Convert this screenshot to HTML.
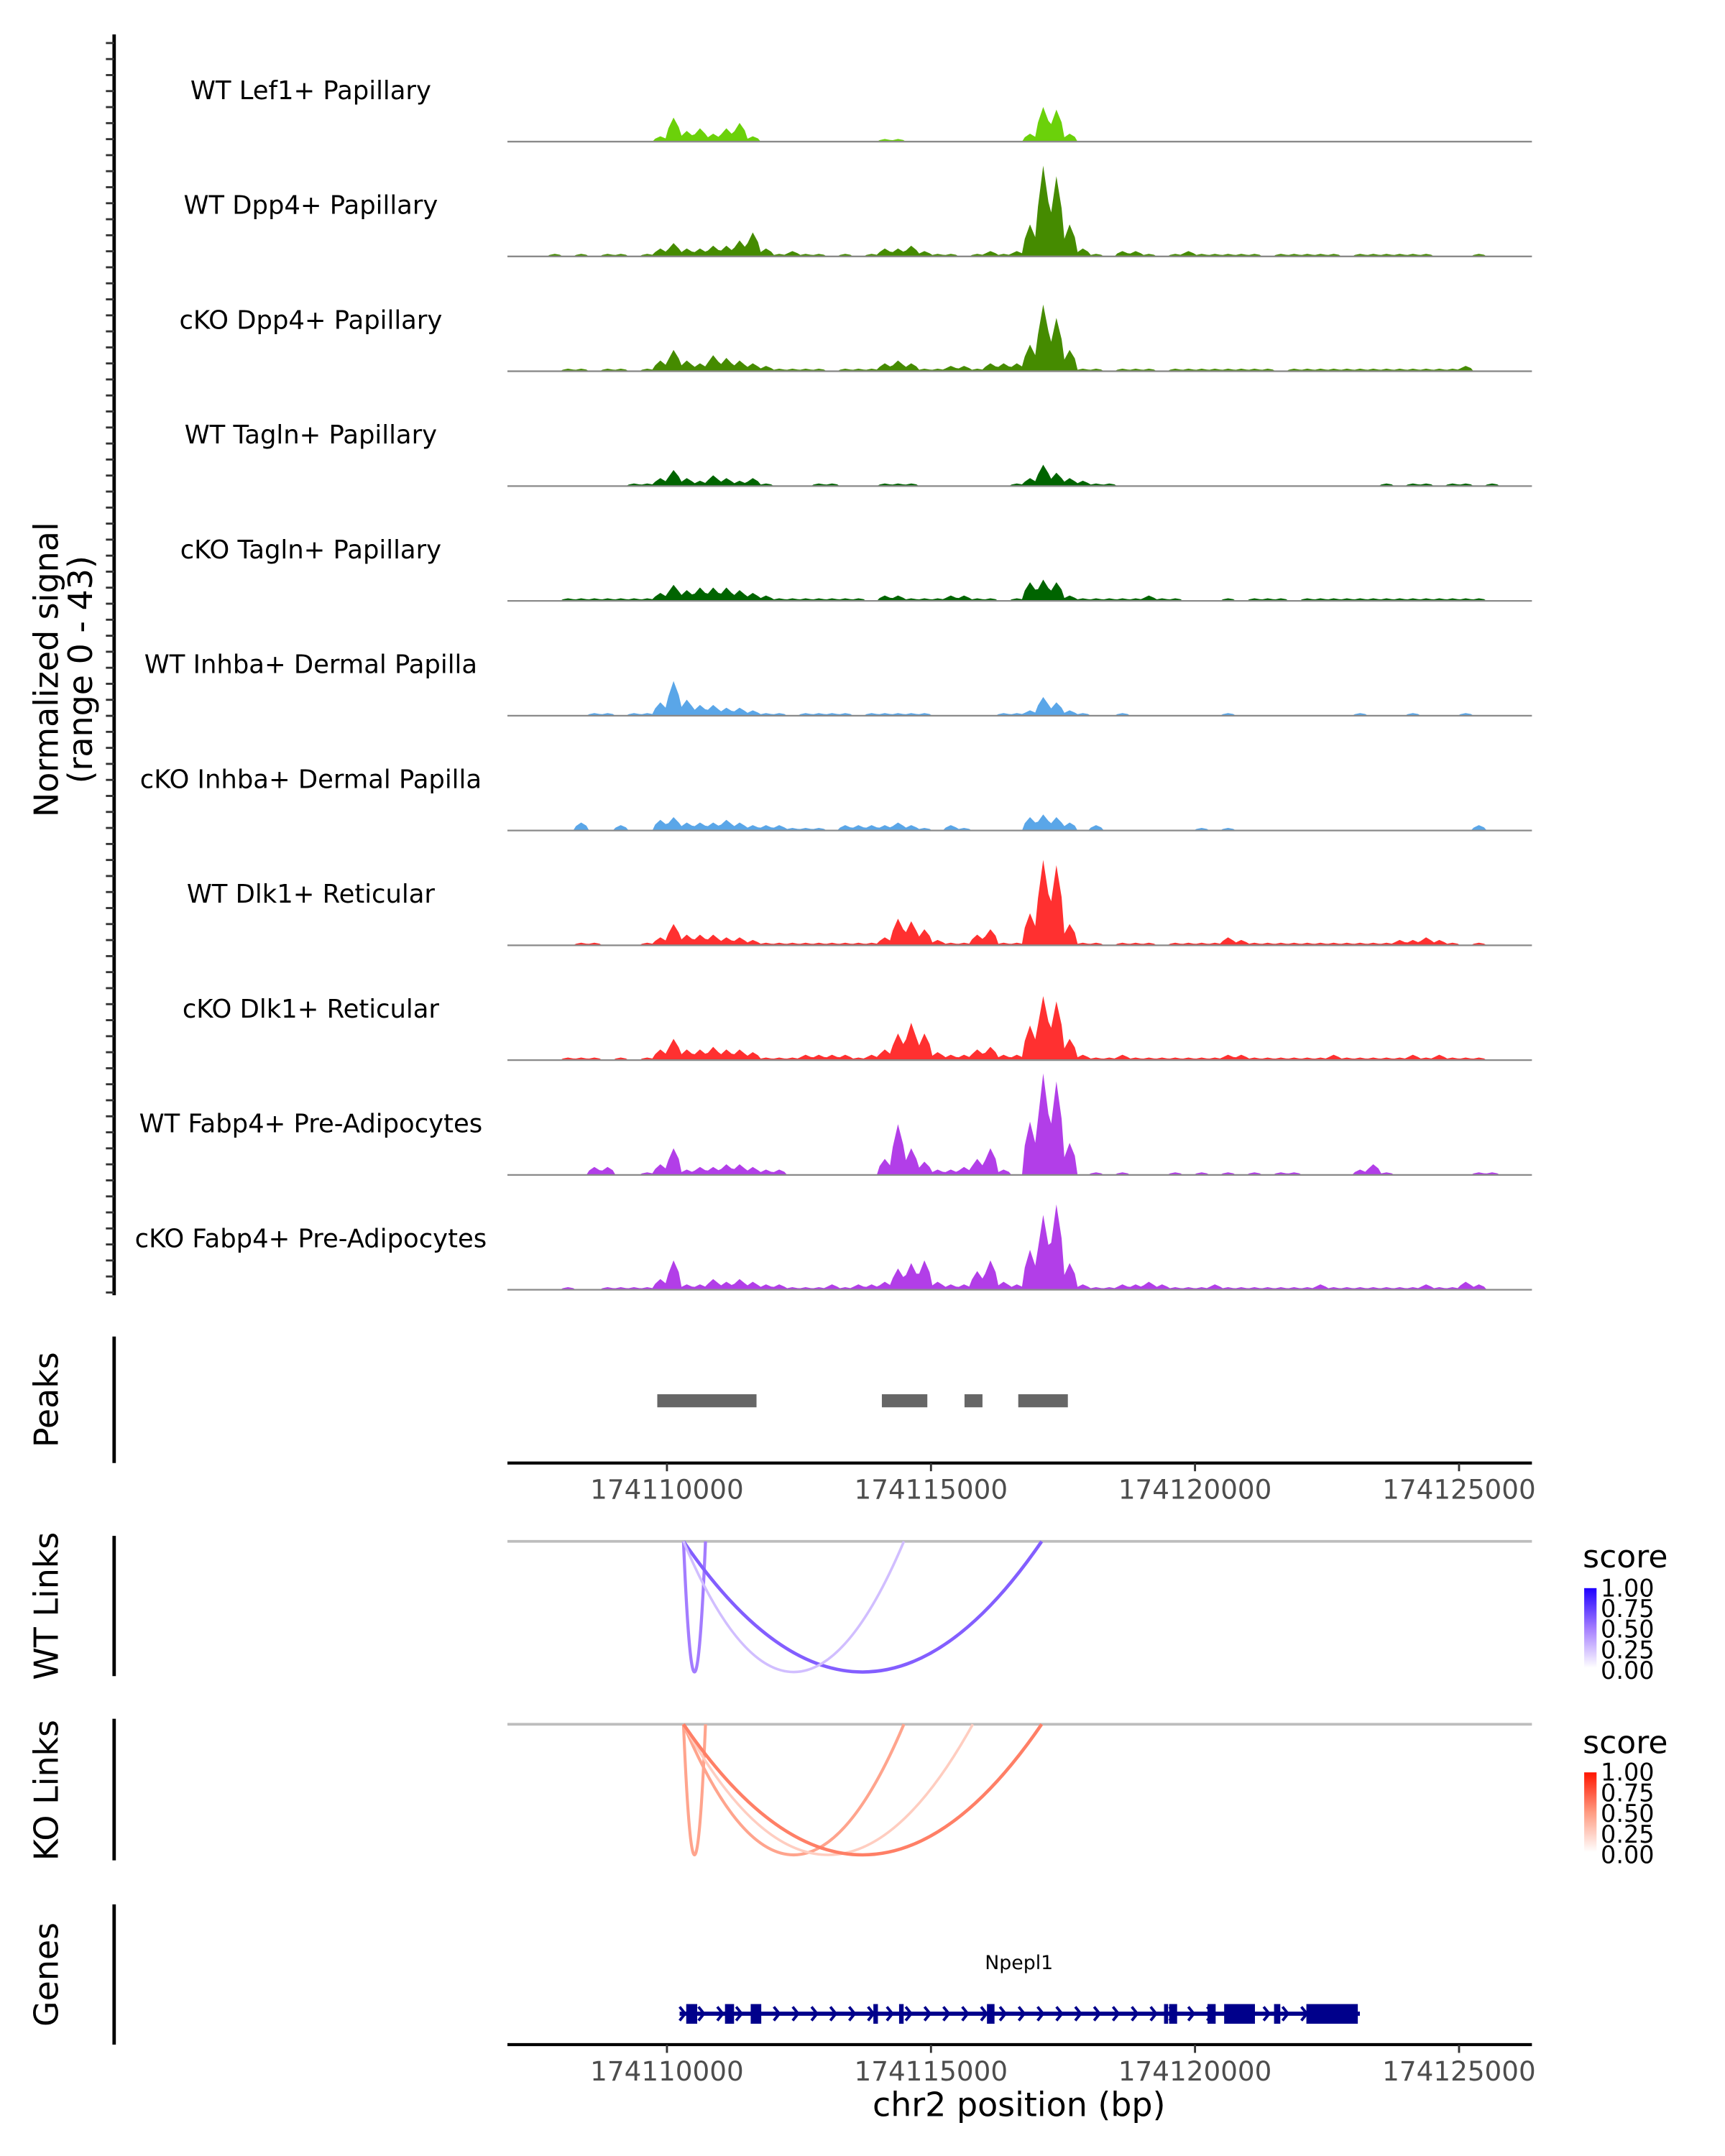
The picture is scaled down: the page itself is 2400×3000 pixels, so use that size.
<!DOCTYPE html>
<html><head><meta charset="utf-8"><title>Coverage plot</title>
<style>html,body{margin:0;padding:0;background:#fff}svg{display:block}text{font-family:"DejaVu Sans","Liberation Sans",sans-serif}</style>
</head><body>
<svg id="chart" xmlns="http://www.w3.org/2000/svg" width="2400" height="3000" viewBox="0 0 1254.4 1568" preserveAspectRatio="none">
<defs>
<linearGradient id="gBlue" x1="0" y1="1" x2="0" y2="0"><stop offset="0" stop-color="#ffffff"/><stop offset="0.5" stop-color="#a37cff"/><stop offset="1" stop-color="#1f00ff"/></linearGradient>
<linearGradient id="gRed" x1="0" y1="1" x2="0" y2="0"><stop offset="0" stop-color="#ffffff"/><stop offset="0.5" stop-color="#ff9a80"/><stop offset="1" stop-color="#ff1500"/></linearGradient>
</defs>
<g id="static">
<text transform="translate(42,487) rotate(-90)" text-anchor="middle" font-size="24">Normalized signal</text>
<text transform="translate(67,487) rotate(-90)" text-anchor="middle" font-size="24">(range 0 - 43)</text>
<line x1="83" y1="25" x2="83" y2="942" stroke="#000" stroke-width="2.5"/>
<text transform="translate(42,1018) rotate(-90)" text-anchor="middle" font-size="24">Peaks</text>
<line x1="83" y1="972" x2="83" y2="1064" stroke="#000" stroke-width="2.5"/>
<text transform="translate(42,1168) rotate(-90)" text-anchor="middle" font-size="24">WT Links</text>
<line x1="83" y1="1117" x2="83" y2="1219" stroke="#000" stroke-width="2.5"/>
<text transform="translate(42,1302) rotate(-90)" text-anchor="middle" font-size="24">KO Links</text>
<line x1="83" y1="1250" x2="83" y2="1353" stroke="#000" stroke-width="2.5"/>
<text transform="translate(42,1436) rotate(-90)" text-anchor="middle" font-size="24">Genes</text>
<line x1="83" y1="1385" x2="83" y2="1487" stroke="#000" stroke-width="2.5"/>
<text x="741" y="1539" text-anchor="middle" font-size="24">chr2 position (bp)</text>
<text x="741" y="1432" text-anchor="middle" font-size="14">Npepl1</text>
<text x="1151" y="1140" font-size="23">score</text>
<rect x="1152" y="1155" width="9" height="58" fill="url(#gBlue)"/>
<text x="1151" y="1275" font-size="23">score</text>
<rect x="1152" y="1289" width="9" height="58" fill="url(#gRed)"/>
</g>
<g id="dyn"></g>
</svg>
<script>
const names=["WT Lef1+ Papillary","WT Dpp4+ Papillary","cKO Dpp4+ Papillary","WT Tagln+ Papillary","cKO Tagln+ Papillary","WT Inhba+ Dermal Papilla","cKO Inhba+ Dermal Papilla","WT Dlk1+ Reticular","cKO Dlk1+ Reticular","WT Fabp4+ Pre-Adipocytes","cKO Fabp4+ Pre-Adipocytes"];
const colors=["#6bd10a","#458b00","#458b00","#006400","#006400","#5aa6e8","#5aa6e8","#ff3030","#ff3030","#b23ee8","#b23ee8"];
const binStart=174107000, binSize=250;
const sigLef1=[0,0,0,0,0,0,0,0,0,0, 0,2,9,4,5,3,5,7,2,0, 0,0,0,0,0,0,0,0,1,1, 0,0,0,0,0,0,0,0,0,3, 13,12,3,0,0,0,0,0,0,0, 0,0,0,0,0,0,0,0,0,0, 0,0,0,0,0,0,0,0,0,0, 0,0,0,0,0,0];
const sigWTDpp4=[0,0,0,1,0,1,0,1,1,0, 1,3,5,3,3,4,4,6,9,3, 1,2,1,1,0,1,0,1,3,3, 4,2,1,1,0,1,2,1,2,12, 34,30,12,3,1,0,2,2,1,0, 1,2,1,1,1,1,1,0,1,1, 1,1,1,0,1,1,1,1,1,1, 0,0,0,1,0,0];
const sigKODpp4=[0,0,0,0,1,1,0,1,1,0, 1,4,8,4,3,6,5,4,3,2, 1,1,1,1,0,1,1,1,3,4, 3,1,1,2,2,1,3,3,3,10, 25,20,8,1,1,0,1,1,1,0, 1,1,1,1,1,1,1,1,0,1, 1,1,1,1,1,1,1,1,1,1, 1,1,2,0,0,0];
const sigWTTagln=[0,0,0,0,0,0,0,0,0,1, 1,3,6,3,2,4,3,2,3,1, 0,0,0,1,1,0,0,0,1,1, 1,0,0,0,0,0,0,0,1,3, 8,5,3,2,1,1,0,0,0,0, 0,0,0,0,0,0,0,0,0,0, 0,0,0,0,0,0,1,0,1,1, 0,1,1,0,1,0];
const sigKOTagln=[0,0,0,0,1,1,1,1,1,1, 1,3,6,4,5,5,5,4,3,2, 1,1,1,1,1,1,1,0,2,2, 1,1,1,2,2,1,1,0,1,7, 8,7,2,1,1,1,1,1,2,1, 1,0,0,0,1,0,1,1,1,0, 1,1,1,1,1,1,1,1,1,1, 1,1,1,1,0,0];
const sigWTInhba=[0,0,0,0,0,0,1,1,0,1, 1,5,13,6,4,4,3,3,2,1, 1,0,1,1,1,1,0,1,1,1, 1,1,0,0,0,0,0,1,1,2, 7,5,2,1,0,0,1,0,0,0, 0,0,0,0,1,0,0,0,0,0, 0,0,0,0,1,0,0,0,1,0, 0,0,1,0,0,0];
const sigKOInhba=[0,0,0,0,0,3,0,0,2,0, 0,4,5,3,3,3,4,3,2,2, 2,1,1,1,0,2,2,2,2,3, 2,1,0,2,1,0,0,0,0,5, 6,5,3,0,2,0,0,0,0,0, 0,0,1,0,1,0,0,0,0,0, 0,0,0,0,0,0,0,0,0,0, 0,0,0,2,0,0];
const sigWTDlk1=[0,0,0,0,0,1,1,0,0,0, 1,3,8,4,4,4,3,3,2,1, 1,1,1,1,1,1,1,1,3,10, 9,6,2,1,1,4,6,1,1,12, 32,30,8,1,1,0,1,1,1,0, 1,1,1,1,3,2,1,1,1,1, 1,1,1,1,1,1,1,2,2,3, 2,1,0,1,0,0];
const sigKODlk1=[0,0,0,0,1,1,1,0,1,0, 1,4,8,4,4,5,4,4,3,1, 1,1,2,2,2,2,1,2,4,10, 14,10,3,2,2,4,5,2,2,13, 24,22,8,2,1,1,2,1,1,1, 1,1,1,1,2,2,1,1,1,1, 1,1,2,1,1,1,1,1,2,1, 2,1,1,1,0,0];
const sigWTFabp4=[0,0,0,0,0,0,3,3,0,0, 1,4,10,2,3,3,4,4,3,2, 2,0,0,0,0,0,0,0,6,19, 10,5,2,2,3,6,10,2,0,20, 38,35,12,0,1,0,1,0,0,0, 1,0,1,0,1,0,1,0,1,1, 0,0,0,0,2,4,1,0,0,0, 0,0,0,1,1,0];
const sigKOFabp4=[0,0,0,0,1,0,0,1,1,1, 1,4,11,2,2,4,3,4,3,2, 2,1,1,1,2,1,2,2,3,8, 10,11,3,2,2,7,11,3,2,15, 28,32,10,2,1,1,2,2,3,2, 1,1,1,2,1,1,1,1,1,1, 1,2,1,1,1,1,1,1,1,2, 1,1,3,2,0,0];
const peakStarts=[174109817,174114070,174115635,174116653];
const peakEnds=[174111696,174114931,174115975,174117592];
const wtLinkStart=[174110313,174110313,174110313];
const wtLinkEnd=[174110730,174117096,174114487];
const wtLinkScore=[0.5,0.62,0.25];
const koLinkStart=[174110313,174110313,174110313,174110313];
const koLinkEnd=[174110730,174114487,174115792,174117096];
const koLinkScore=[0.45,0.45,0.25,0.6];
const exonStarts=[174110365,174111099,174111586,174113909,174114396,174116060,174119414,174119510,174120237,174120552,174121497,174122109];
const exonEnds=[174110573,174111271,174111786,174113995,174114482,174116203,174119490,174119661,174120391,174121135,174121615,174123083];
const geneStart=174110240, geneEnd=174123122;
const xTicks=[174110000,174115000,174120000,174125000];
const legendTicks=["1.00","0.75","0.50","0.25","0.00"];
const signals=[sigLef1,sigWTDpp4,sigKODpp4,sigWTTagln,sigKOTagln,sigWTInhba,sigKOInhba,sigWTDlk1,sigKODlk1,sigWTFabp4,sigKOFabp4];

const NS="http://www.w3.org/2000/svg";
const g=document.getElementById("dyn");
const X0=369,X1=1114;
function xs(bp){return 485+(bp-174110000)*0.0384;}
function ys(v){return v*83.5/43;}
function mk(t,a,p){const e=document.createElementNS(NS,t);for(const k in a)e.setAttribute(k,a[k]);(p||g).appendChild(e);return e;}

for(let y=940;y>=30;y-=11.65){
  const t=mk("line",{x1:77,x2:83,y1:y,y2:y,stroke:"#333","stroke-width":1.5});
  
  
}
signals.forEach((s,k)=>{
  const base=103+83.5*k;
  const lab=mk("text",{x:226,y:base-31,"text-anchor":"middle","font-size":18.5});
  lab.textContent=names[k];
  
  
  let d="M"+X0+","+base;
  s.forEach((v,i)=>{
    const xa=xs(binStart+i*binSize), xb=xs(binStart+(i+1)*binSize);
    const h=ys(v);
    d+=" L"+(xa+1).toFixed(1)+","+(base-h*0.55).toFixed(1)+" L"+((xa+xb)/2).toFixed(1)+","+(base-h).toFixed(1)+" L"+(xb-1).toFixed(1)+","+(base-h*0.6).toFixed(1);
  });
  d+=" L"+X1+","+base+" Z";
  const p=mk("path",{d:d,fill:colors[k]});
  
  
  const bl=mk("line",{x1:X0,x2:X1,y1:base,y2:base,stroke:"#8a8a8a","stroke-width":1.2});
  
  
});
peakStarts.forEach((s,i)=>{
  const r=mk("rect",{x:xs(s),y:1014,width:xs(peakEnds[i])-xs(s),height:9.5,fill:"#666"});
  
  
});
function xaxis(y){
  const l=mk("line",{x1:X0,x2:X1,y1:y,y2:y,stroke:"#000","stroke-width":2.2});
  
  
  xTicks.forEach(t=>{
    const tk=mk("line",{x1:xs(t),x2:xs(t),y1:y,y2:y+6,stroke:"#333","stroke-width":1.5});
    
    
    const tl=mk("text",{x:xs(t),y:y+26,"text-anchor":"middle","font-size":19.5,fill:"#4d4d4d"});
    tl.textContent=t;
    
    
  });
}
xaxis(1064);xaxis(1487);
function mix(a,b,t){return a.map((v,i)=>Math.round(v+(b[i]-v)*t));}
function col(sc,mid,hi){const w=[255,255,255];const c=sc<0.5?mix(w,mid,sc/0.5):mix(mid,hi,(sc-0.5)/0.5);return "rgb("+c.join(",")+")";}
function links(y0,st,en,sc,mid,hi){
  const bl=mk("line",{x1:X0,x2:X1,y1:y0,y2:y0,stroke:"#bdbdbd","stroke-width":2});
  
  
  st.forEach((s,i)=>{
    const a=xs(s),b=xs(en[i]),h=95*2;
    const p=mk("path",{d:"M"+a+","+y0+" Q"+((a+b)/2)+","+(y0+h)+" "+b+","+y0,fill:"none",stroke:col(sc[i],mid,hi),"stroke-width":1.5+sc[i]*1.5});
    
    
  });
}
links(1121,wtLinkStart,wtLinkEnd,wtLinkScore,[163,124,255],[31,0,255]);
links(1254,koLinkStart,koLinkEnd,koLinkScore,[255,154,128],[255,21,0]);
function legend(y){
  legendTicks.forEach((t,i)=>{
    const ty=y+i*15;
    const tx=mk("text",{x:1164,y:ty+6,"font-size":17.5});
    tx.textContent=t;
    
    
  });
}
legend(1155);legend(1289);
const gy=1464.5;
const gl=mk("line",{x1:xs(geneStart),x2:xs(geneEnd),y1:gy,y2:gy,stroke:"#00008b","stroke-width":3});


for(let x=xs(geneStart)+2;x<xs(geneEnd)-2;x+=13.7){
  const c=mk("path",{d:"M"+(x-2)+","+(gy-5)+" L"+(x+2)+","+gy+" L"+(x-2)+","+(gy+5),fill:"none",stroke:"#00008b","stroke-width":2});
  
  
}
exonStarts.forEach((s,i)=>{
  const r=mk("rect",{x:xs(s),y:gy-7,width:Math.max(2,xs(exonEnds[i])-xs(s)),height:14.3,fill:"#00008b"});
  
  
});
</script>
</body></html>
